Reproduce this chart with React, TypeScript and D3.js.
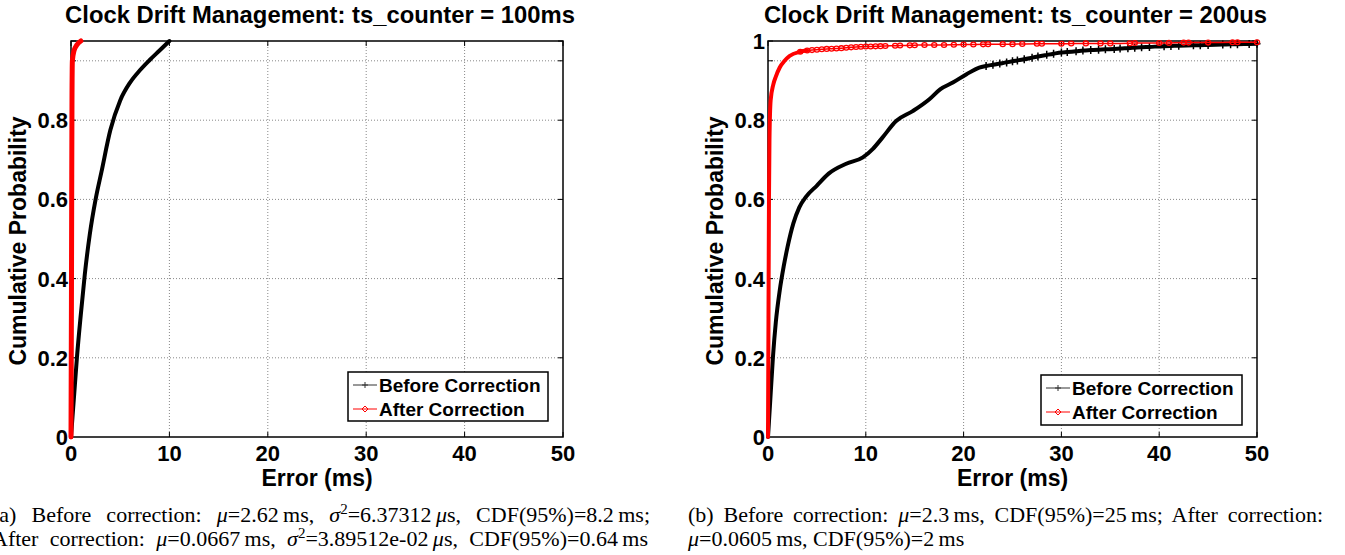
import React, { useLayoutEffect, useRef } from "react";
import * as d3 from "d3";

// ---------- data ----------
const xTicks = [0, 10, 20, 30, 40, 50];
const yGrid = [0.2, 0.4, 0.6, 0.8, 0.95];
const yTicksLeft = [0, 0.2, 0.4, 0.6, 0.8];
const yTicksRight = [0, 0.2, 0.4, 0.6, 0.8, 1];

const titleLeft = "Clock Drift Management: ts_counter = 100ms";
const titleRight = "Clock Drift Management: ts_counter = 200us";
const seriesNames = ["Before Correction", "After Correction"];

// panel (a): [error ms, cumulative probability]
const beforeA: [number, number][] = [
  [0, 0], [0.3, 0.1], [0.6, 0.2], [1.0, 0.31], [1.4, 0.41], [1.9, 0.51], [2.5, 0.6],
  [3.1, 0.67], [4.0, 0.775], [5.0, 0.85], [6.0, 0.895], [7.0, 0.926], [8.0, 0.952],
  [9.0, 0.976], [10.0, 1.0],
];
const afterA: [number, number][] = [
  [0, 0], [0.04, 0.3], [0.07, 0.6], [0.1, 0.85], [0.14, 0.95], [0.3, 0.975],
  [0.6, 0.99], [1.0, 1.0],
];

// panel (b)
const beforeB: [number, number][] = [
  [0, 0], [0.2, 0.08], [0.5, 0.2], [0.8, 0.29], [1.2, 0.37], [1.6, 0.43], [2.0, 0.48],
  [2.6, 0.54], [3.2, 0.58], [3.9, 0.607], [5.0, 0.635], [6.2, 0.665], [8.0, 0.69],
  [9.7, 0.706], [10.7, 0.727], [11.7, 0.756], [13.1, 0.798], [14.8, 0.823],
  [16.5, 0.853], [17.6, 0.878], [18.9, 0.895], [20.3, 0.916], [21.6, 0.933],
  [22.3, 0.937], [23.0, 0.94], [23.7, 0.943], [24.4, 0.946], [25.0, 0.949],
  [25.5, 0.951], [26.2, 0.954], [27.0, 0.958], [27.6, 0.961], [28.5, 0.965],
  [29.2, 0.968], [30.0, 0.971], [30.6, 0.972], [31.5, 0.974], [32.2, 0.976],
  [33.0, 0.977], [33.8, 0.978], [34.5, 0.979], [35.4, 0.98], [36.0, 0.981],
  [36.8, 0.982], [37.5, 0.983], [38.2, 0.984], [39.0, 0.985], [40.5, 0.987],
  [41.2, 0.9875], [42.0, 0.988], [43.5, 0.989], [44.2, 0.9895], [45.0, 0.99],
  [46.5, 0.991], [47.3, 0.9915], [48.0, 0.992], [49.2, 0.9925], [50.0, 0.993],
];
const afterB: [number, number][] = [
  [0, 0], [0.05, 0.3], [0.1, 0.6], [0.15, 0.75], [0.27, 0.85], [0.54, 0.89],
  [0.8, 0.91], [1.2, 0.933], [1.7, 0.95], [2.2, 0.962], [3.3, 0.973], [4.0, 0.976],
  [4.5, 0.977], [5.0, 0.978], [5.5, 0.979], [6.0, 0.98], [6.5, 0.9805], [7.0, 0.981],
  [7.5, 0.982], [8.0, 0.983], [8.5, 0.984], [9.0, 0.985], [9.5, 0.9855], [10.0, 0.986],
  [10.5, 0.9862], [11.0, 0.9865], [11.5, 0.987], [12.0, 0.9875], [13.0, 0.988],
  [13.5, 0.9885], [14.5, 0.989], [15.0, 0.9893], [16.0, 0.99], [17.0, 0.99],
  [18.0, 0.99], [19.0, 0.9905], [20.0, 0.991], [21.0, 0.9912], [22.0, 0.9915],
  [22.5, 0.992], [24.0, 0.992], [25.0, 0.992], [26.0, 0.9925], [27.5, 0.993],
  [28.0, 0.993], [30.0, 0.993], [31.0, 0.9935], [32.5, 0.994], [34.0, 0.994],
  [35.0, 0.994], [37.0, 0.9945], [37.5, 0.995], [40.0, 0.995], [41.0, 0.9952],
  [42.5, 0.996], [43.0, 0.996], [45.0, 0.996], [47.5, 0.997], [48.0, 0.997],
  [50.0, 0.997],
];

const TS = "\u2009"; // thin space between number and unit
const captionA = [
  ["(a) Before correction: ", "μ", "=2.62" + TS + "ms, ", "σ", "^2", "=6.37312" + TS, "μ", "s, CDF(95%)=8.2" + TS + "ms;"],
  ["After correction: ", "μ", "=0.0667" + TS + "ms, ", "σ", "^2", "=3.89512e-02" + TS, "μ", "s, CDF(95%)=0.64" + TS + "ms"],
];
const captionB = [
  ["(b) Before correction: ", "μ", "=2.3" + TS + "ms, CDF(95%)=25" + TS + "ms; After correction:"],
  ["μ", "=0.0605" + TS + "ms, CDF(95%)=2" + TS + "ms"],
];

const SANS = "'Liberation Sans', Arial, Helvetica, sans-serif";
const SERIF = "'Liberation Serif', 'Times New Roman', serif";
const RED = "#ff0000";

type PanelProps = {
  x0: number; x1: number; y0: number; y1: number;
  title: string; yTicks: number[];
  before: [number, number][]; after: [number, number][];
  legend: { x: number; y: number; w: number; h: number };
  afterWidth: number; blackMarkFrom: number; redTail: number;
};

function Panel(p: PanelProps) {
  const x = d3.scaleLinear().domain([0, 50]).range([p.x0, p.x1]);
  const y = d3.scaleLinear().domain([0, 1]).range([p.y1, p.y0]);
  const line = d3.line<[number, number]>().x((d) => x(d[0])).y((d) => y(d[1])).curve(d3.curveMonotoneX);
  const cx = (p.x0 + p.x1) / 2;
  const tk = 5;
  const lg = p.legend;
  const rHead = p.after.filter((d) => d[0] <= p.redTail);
  return (
    <g>
      <text x={cx + 3} y={23} textAnchor="middle" fontFamily={SANS} fontWeight="bold" fontSize={23.8}>{p.title}</text>
      {/* grid */}
      {xTicks.slice(1, -1).map((t) => (
        <line key={"gx" + t} x1={x(t)} x2={x(t)} y1={p.y0} y2={p.y1} stroke="#888" strokeDasharray="1,2" />
      ))}
      {yGrid.map((t) => (
        <line key={"gy" + t} x1={p.x0} x2={p.x1} y1={y(t)} y2={y(t)} stroke="#888" strokeDasharray="1,2" />
      ))}
      {/* ticks */}
      {xTicks.map((t) => (
        <g key={"tx" + t}>
          <line x1={x(t)} x2={x(t)} y1={p.y1} y2={p.y1 - tk} stroke="#000" />
          <line x1={x(t)} x2={x(t)} y1={p.y0} y2={p.y0 + tk} stroke="#000" />
          <text x={x(t)} y={461} textAnchor="middle" fontFamily={SANS} fontWeight="bold" fontSize={22}>{t}</text>
        </g>
      ))}
      {yGrid.concat([1]).map((t) => (
        <g key={"ty" + t}>
          <line x1={p.x0} x2={p.x0 + tk} y1={y(t)} y2={y(t)} stroke="#000" />
          <line x1={p.x1} x2={p.x1 - tk} y1={y(t)} y2={y(t)} stroke="#000" />
        </g>
      ))}
      {p.yTicks.map((t) => (
        <text key={"yl" + t} x={p.x0 - 3} y={y(t) + 8} textAnchor="end" fontFamily={SANS} fontWeight="bold" fontSize={22}>{t}</text>
      ))}
      <rect x={p.x0} y={p.y0} width={p.x1 - p.x0} height={p.y1 - p.y0} fill="none" stroke="#000" strokeWidth={1.5} />
      <text x={cx} y={486} textAnchor="middle" fontFamily={SANS} fontWeight="bold" fontSize={23}>Error (ms)</text>
      <text transform={`translate(${p.x0 - 45},${(p.y0 + p.y1) / 2 + 2}) rotate(-90)`} textAnchor="middle" fontFamily={SANS} fontWeight="bold" fontSize={23}>Cumulative Probability</text>
      {/* series */}
      <path d={line(p.before) || ""} fill="none" stroke="#000" strokeWidth={4} strokeLinejoin="round" strokeLinecap="round" />
      {p.before.filter((d) => d[0] > p.blackMarkFrom).map((d, i) => (
        <path key={"bm" + i} d={`M${x(d[0]) - 3.5},${y(d[1])}h7M${x(d[0])},${y(d[1]) - 4}v8`} stroke="#000" strokeWidth={1.5} />
      ))}
      <path d={line(rHead) || ""} fill="none" stroke={RED} strokeWidth={p.afterWidth} strokeLinejoin="round" strokeLinecap="round" />
      <path d={line(p.after) || ""} fill="none" stroke={RED} strokeWidth={1.5} strokeLinejoin="round" />
      {p.after.filter((d) => d[0] > p.redTail - 1).map((d, i) => (
        <ellipse key={"am" + i} cx={x(d[0])} cy={y(d[1])} rx={2.6} ry={2.4} fill="none" stroke={RED} strokeWidth={1.3} />
      ))}
      {/* legend */}
      <rect x={lg.x} y={lg.y} width={lg.w} height={lg.h} fill="#fff" stroke="#000" strokeWidth={1.5} />
      {seriesNames.map((n, i) => {
        const ly = lg.y + 13 + i * 24;
        const col = i === 0 ? "#333" : RED;
        const mx = lg.x + 17;
        return (
          <g key={n}>
            <line x1={lg.x + 5} x2={lg.x + 29} y1={ly} y2={ly} stroke={col} strokeWidth={1} />
            {i === 0 ? (
              <path d={`M${mx - 3},${ly}h6M${mx},${ly - 3}v6`} stroke={col} strokeWidth={1} />
            ) : (
              <path d={`M${mx - 3},${ly}l3,-3l3,3l-3,3z`} stroke={col} fill="none" strokeWidth={1} />
            )}
            <text x={lg.x + 31} y={ly + 7} fontFamily={SANS} fontWeight="bold" fontSize={19}>{n}</text>
          </g>
        );
      })}
    </g>
  );
}

function Caption({ lines, x, widths, y0 }: { lines: string[][]; x: number; widths: (number | null)[]; y0: number }) {
  const refs = useRef<(SVGTextElement | null)[]>([]);
  useLayoutEffect(() => {
    lines.forEach((parts, li) => {
      const el = refs.current[li];
      const target = widths[li];
      if (!el || target == null) return;
      el.style.wordSpacing = "0px";
      const natural = el.getComputedTextLength();
      const spaces = parts.join("").split(" ").length - 1;
      if (spaces > 0) el.style.wordSpacing = `${Math.max(0, (target - natural) / spaces)}px`;
    });
  }, []);
  return (
    <g fontFamily={SERIF} fontSize={22}>
      {lines.map((parts, li) => (
        <text key={li} ref={(el) => { refs.current[li] = el; }} x={x} y={y0 + li * 23.5} style={{ whiteSpace: "pre" }}>
          {parts.map((s, i) => {
            if (s.startsWith("^")) {
              return <tspan key={i} dy={-8} fontSize={15}>{s.slice(1)}</tspan>;
            }
            const prevSup = i > 0 && parts[i - 1].startsWith("^");
            return (
              <tspan key={i} dy={prevSup ? 8 : undefined} fontStyle={s === "μ" || s === "σ" ? "italic" : "normal"}>{s}</tspan>
            );
          })}
        </text>
      ))}
    </g>
  );
}

export default function App() {
  return (
    <svg width={1345} height={555} style={{ position: "absolute", left: 0, top: 0, background: "#fff" }}>
      <rect width={1345} height={555} fill="#fff" />
      <Panel x0={71} x1={563} y0={41} y1={437} title={titleLeft} yTicks={yTicksLeft}
        before={beforeA} after={afterA} legend={{ x: 348, y: 372, w: 200, h: 49 }} afterWidth={5} blackMarkFrom={99} redTail={99} />
      <Panel x0={768} x1={1257} y0={41} y1={437} title={titleRight} yTicks={yTicksRight}
        before={beforeB} after={afterB} legend={{ x: 1041, y: 375, w: 201, h: 50 }} afterWidth={4} blackMarkFrom={22} redTail={4} />
      <Caption lines={captionA} x={-8} widths={[658, 656]} y0={522} />
      <Caption lines={captionB} x={688} widths={[635, null]} y0={522} />
    </svg>
  );
}
